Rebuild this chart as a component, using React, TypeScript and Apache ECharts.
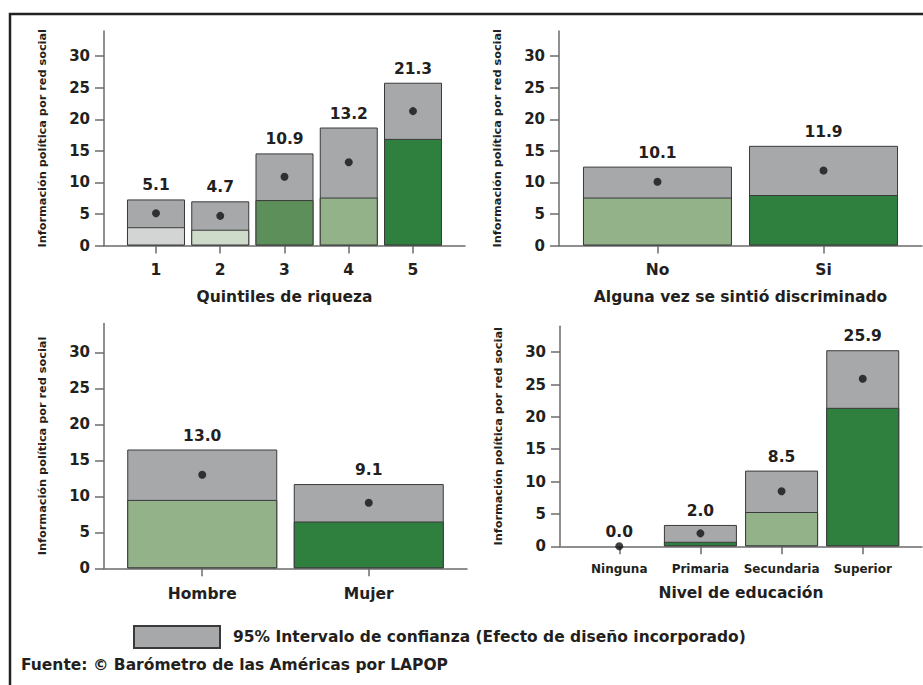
import React, { useEffect, useRef } from "react";
import * as echarts from "echarts";

// ---------- data ----------
const quintileCats = ["1", "2", "3", "4", "5"];
const quintileMean = [5.1, 4.7, 10.9, 13.2, 21.3];
const quintileLow = [2.9, 2.5, 7.2, 7.6, 16.9];
const quintileHigh = [7.3, 7.0, 14.6, 18.7, 25.8];

const discrimCats = ["No", "Si"];
const discrimMean = [10.1, 11.9];
const discrimLow = [7.6, 8.0];
const discrimHigh = [12.5, 15.8];

const genderCats = ["Hombre", "Mujer"];
const genderMean = [13.0, 9.1];
const genderLow = [9.5, 6.5];
const genderHigh = [16.5, 11.7];

const eduCats = ["Ninguna", "Primaria", "Secundaria", "Superior"];
const eduMean = [0.0, 2.0, 8.5, 25.9];
const eduLow = [0, 0.7, 5.3, 21.4];
const eduHigh = [0, 3.3, 11.7, 30.3];

const yTicks = [0, 5, 10, 15, 20, 25, 30];

const yName = "Información política por red social";
const legendName = "95% Intervalo de confianza (Efecto de diseño incorporado)";
const footer = "Fuente: © Barómetro de las Américas por LAPOP";

// ---------- styles ----------
const FONT = "DejaVu Sans, Verdana, sans-serif";
const TXT = "#231f20";
const AX = "#6b6b6b";
const GREY = "#a7a8aa";
const C_LGREY = "#d3d5d4";
const C_PALE = "#cfdbca";
const C_MID = "#5d8f5a";
const C_SAGE = "#93b28a";
const C_DARK = "#2f7f3f";

const panels = [
  {
    cats: quintileCats, mean: quintileMean, low: quintileLow, high: quintileHigh,
    colors: [C_LGREY, C_PALE, C_MID, C_SAGE, C_DARK],
    grid: { left: 104, top: 31, width: 361, height: 214.5 },
    xMin: 0.191, xMax: 5.809, barWidth: 58,
    title: "Quintiles de riqueza", labelSize: 15.5, labelMargin: 16, nameGap: 43,
  },
  {
    cats: discrimCats, mean: discrimMean, low: discrimLow, high: discrimHigh,
    colors: [C_SAGE, C_DARK],
    grid: { left: 559, top: 31, width: 363, height: 214.5 },
    xMin: 0.407, xMax: 2.593, barWidth: 149,
    title: "Alguna vez se sintió discriminado", labelSize: 15.5, labelMargin: 16, nameGap: 43,
  },
  {
    cats: genderCats, mean: genderMean, low: genderLow, high: genderHigh,
    colors: [C_SAGE, C_DARK],
    grid: { left: 104, top: 323.5, width: 363, height: 244.8 },
    xMin: 0.41, xMax: 2.59, barWidth: 150,
    title: "", labelSize: 15.5, labelMargin: 18, nameGap: 40,
  },
  {
    cats: eduCats, mean: eduMean, low: eduLow, high: eduHigh,
    colors: [C_DARK, C_DARK, C_SAGE, C_DARK],
    grid: { left: 560, top: 326.3, width: 362, height: 220 },
    xMin: 0.27, xMax: 4.73, barWidth: 73,
    title: "Nivel de educación", labelSize: 12, labelMargin: 17, nameGap: 39,
  },
];

const textBase = { fontFamily: FONT, fontWeight: "bold" as const, color: TXT };

function buildOption() {
  const grids: any[] = [];
  const xAxes: any[] = [];
  const yAxes: any[] = [];
  const series: any[] = [];

  panels.forEach((p, i) => {
    grids.push({ ...p.grid, containLabel: false });
    const pos = p.cats.map((_, k) => k + 1);
    xAxes.push({
      gridIndex: i,
      type: "value",
      min: p.xMin,
      max: p.xMax,
      axisLine: { show: true, onZero: false, lineStyle: { color: AX, width: 1.5 } },
      axisTick: { show: true, customValues: pos, length: 8, lineStyle: { color: AX, width: 1.5 } },
      axisLabel: {
        customValues: pos,
        formatter: (v: number) => p.cats[Math.round(v) - 1] ?? "",
        margin: p.labelMargin,
        fontSize: p.labelSize,
        ...textBase,
      },
      splitLine: { show: false },
      name: p.title,
      nameLocation: "middle",
      nameGap: p.nameGap,
      nameTextStyle: { fontSize: 15.5, ...textBase },
    });
    yAxes.push({
      gridIndex: i,
      type: "value",
      min: 0,
      max: 34,
      axisLine: { show: true, lineStyle: { color: AX, width: 1.5 } },
      axisTick: { show: true, customValues: yTicks, length: 9, lineStyle: { color: AX, width: 1.5 } },
      axisLabel: { customValues: yTicks, margin: 14, fontSize: 15, ...textBase },
      splitLine: { show: false },
      name: yName,
      nameLocation: "middle",
      nameGap: 56,
      nameTextStyle: { fontSize: 11.3, ...textBase },
    });

    series.push({
      type: "bar",
      name: legendName,
      xAxisIndex: i,
      yAxisIndex: i,
      barWidth: p.barWidth,
      barGap: "-100%",
      itemStyle: { color: GREY, borderColor: "#3a3a3a", borderWidth: 1 },
      label: {
        show: true,
        position: "top",
        distance: 6,
        fontSize: 15.5,
        ...textBase,
      },
      data: p.high.map((h, k) => ({
        value: [k + 1, h],
        label: { formatter: p.mean[k].toFixed(1) },
        itemStyle: h === 0 ? { borderWidth: 0 } : undefined,
      })),
      z: 2,
    });
    series.push({
      type: "bar",
      xAxisIndex: i,
      yAxisIndex: i,
      barWidth: p.barWidth,
      barGap: "-100%",
      itemStyle: { borderColor: "#3a3a3a", borderWidth: 1 },
      data: p.low.map((l, k) => ({
        value: [k + 1, l],
        itemStyle: { color: p.colors[k], borderWidth: l === 0 ? 0 : 1 },
      })),
      z: 3,
    });
    series.push({
      type: "scatter",
      xAxisIndex: i,
      yAxisIndex: i,
      symbol: "circle",
      symbolSize: 8,
      itemStyle: { color: "#111111" },
      data: p.mean.map((m, k) => [k + 1, m]),
      z: 5,
    });
  });

  return {
    animation: false,
    backgroundColor: "#ffffff",
    grid: grids,
    xAxis: xAxes,
    yAxis: yAxes,
    series,
    legend: {
      data: [legendName],
      left: 133,
      top: 625,
      padding: 0,
      icon: "rect",
      itemWidth: 86,
      itemHeight: 22,
      selectedMode: false,
      textStyle: { fontSize: 15.5, ...textBase, padding: [0, 0, 0, 8] },
    },
    graphic: [
      {
        type: "rect",
        shape: { x: 10, y: 14, width: 960, height: 720 },
        style: { fill: "none", stroke: "#222222", lineWidth: 2.5 },
        silent: true,
      },
      {
        type: "text",
        x: 21,
        y: 665,
        style: {
          text: footer,
          font: `bold 15.5px ${FONT}`,
          fill: TXT,
          textVerticalAlign: "middle",
        },
      },
    ],
  };
}

export default function App() {
  const ref = useRef<HTMLDivElement>(null);
  useEffect(() => {
    document.body.style.margin = "0";
    if (!ref.current) return;
    const chart = echarts.init(ref.current, undefined, { renderer: "svg" });
    chart.setOption(buildOption() as any);
    return () => chart.dispose();
  }, []);
  return <div ref={ref} style={{ width: 923, height: 685 }} />;
}
